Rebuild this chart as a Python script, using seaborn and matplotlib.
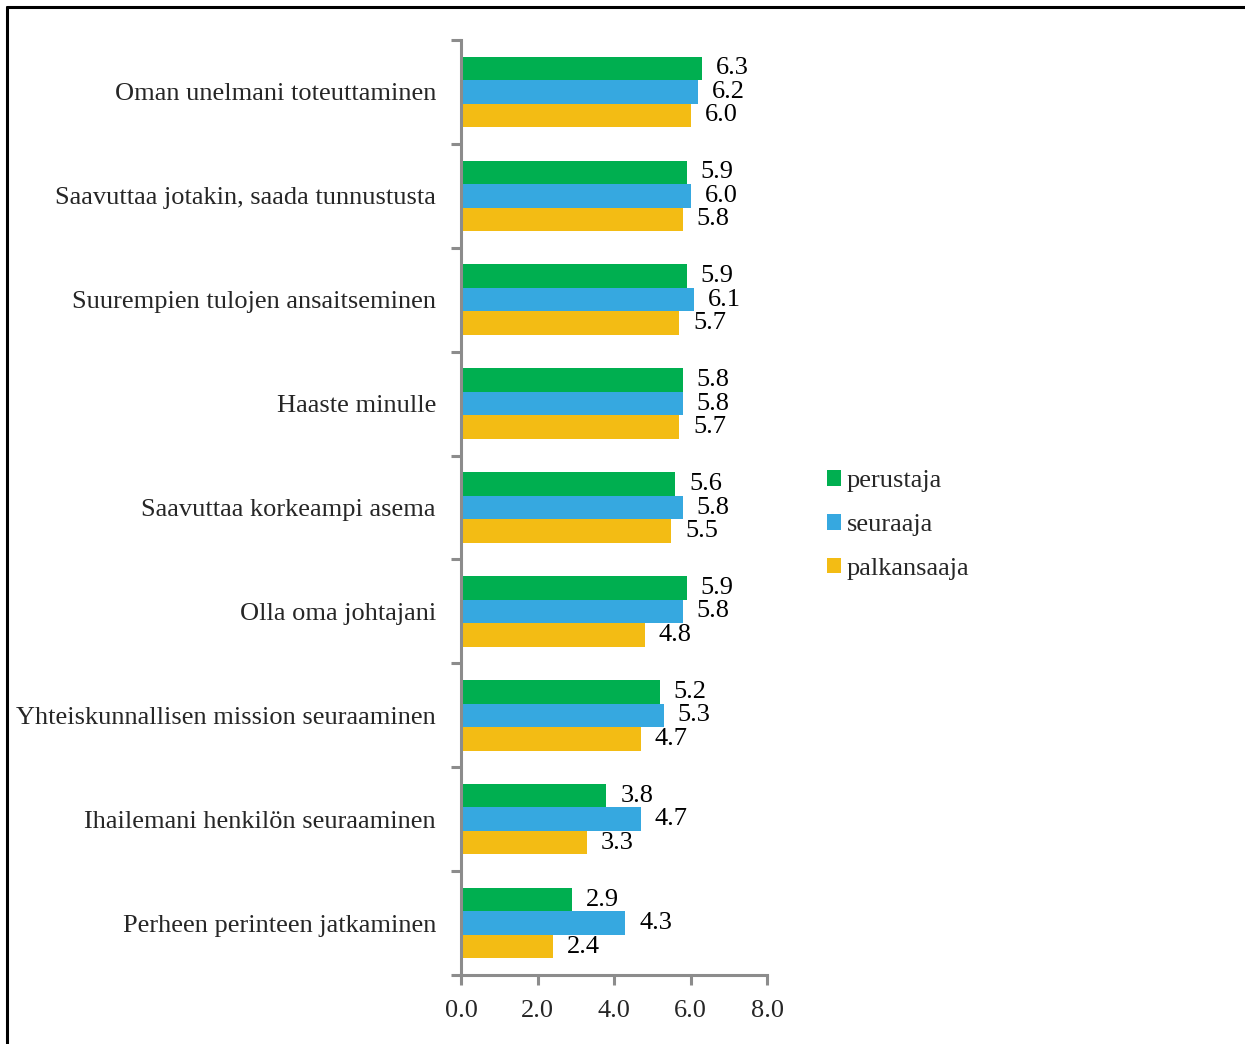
import numpy as np
import pandas as pd
import matplotlib
matplotlib.use("Agg")
import matplotlib.pyplot as plt
import seaborn as sns
from matplotlib.lines import Line2D
from matplotlib.patches import Patch

categories = [
    "Oman unelmani toteuttaminen",
    "Saavuttaa jotakin, saada tunnustusta",
    "Suurempien tulojen ansaitseminen",
    "Haaste minulle",
    "Saavuttaa korkeampi asema",
    "Olla oma johtajani",
    "Yhteiskunnallisen mission seuraaminen",
    "Ihailemani henkilön seuraaminen",
    "Perheen perinteen jatkaminen",
]
perustaja = [6.3, 5.9, 5.9, 5.8, 5.6, 5.9, 5.2, 3.8, 2.9]
seuraaja = [6.2, 6.0, 6.1, 5.8, 5.8, 5.8, 5.3, 4.7, 4.3]
palkansaaja = [6.0, 5.8, 5.7, 5.7, 5.5, 4.8, 4.7, 3.3, 2.4]
series_names = ["perustaja", "seuraaja", "palkansaaja"]
colors = ["#00AF50", "#36A8E0", "#F3BC14"]
xticks = [0.0, 2.0, 4.0, 6.0, 8.0]

rows = []
for name, vals in zip(series_names, [perustaja, seuraaja, palkansaaja]):
    for c, v in zip(categories, vals):
        rows.append({"kategoria": c, "arvo": v, "ryhmä": name})
df = pd.DataFrame(rows)

sns.set_style("white")
plt.rcParams["font.family"] = ["Liberation Serif", "DejaVu Serif"]
FS = 19

fig = plt.figure(figsize=(12.45, 10.44), dpi=100)
ax = fig.add_axes([461/1245, 1-975/1044, (767-461)/1245, (975-40)/1044])

sns.barplot(data=df, y="kategoria", x="arvo", hue="ryhmä", order=categories,
            hue_order=series_names, palette=colors, orient="h", width=0.68,
            saturation=1, ax=ax, legend=False, errorbar=None, linewidth=0)

for cont in ax.containers:
    ax.bar_label(cont, fmt="%.1f", padding=10, fontsize=FS, color="black")

ax.set_xlim(0, 8)
ax.set_ylim(8.5, -0.5)
ax.set_xticks(xticks)
ax.set_xticklabels([f"{t:.1f}" for t in xticks], fontsize=FS)
ax.set_yticks(np.arange(-0.5, 9.0, 1.0))
ax.set_yticklabels([])
ax.set_yticks(np.arange(len(categories)), minor=True)
ax.set_yticklabels(categories, minor=True, fontsize=FS)
ax.tick_params(axis="y", which="minor", length=0, pad=18)
ax.tick_params(axis="y", which="major", length=7, width=2.2, color="#8C8C8C", direction="out", left=True)
ax.tick_params(axis="x", which="major", length=7, width=2.2, color="#8C8C8C", direction="out", bottom=True, pad=11)
ax.set_xlabel("")
ax.set_ylabel("")
for s in ["top", "right"]:
    ax.spines[s].set_visible(False)
for s in ["left", "bottom"]:
    ax.spines[s].set_color("#8C8C8C")
    ax.spines[s].set_linewidth(2.2)

handles = [Patch(facecolor=c, edgecolor="none") for c in colors]
fig.legend(handles, series_names, loc="center left",
           bbox_to_anchor=(803/1245, 1-525/1044), frameon=False,
           fontsize=FS, handlelength=0.55, handleheight=0.55,
           handletextpad=0.2, labelspacing=0.81)

# outer frame
fig.add_artist(Line2D([7/1245, 7/1245], [0, 1-7/1044], transform=fig.transFigure, color="black", lw=2.2))
fig.add_artist(Line2D([7/1245, 1], [1-7/1044, 1-7/1044], transform=fig.transFigure, color="black", lw=2.2))

fig.savefig("out.png", dpi=100)
